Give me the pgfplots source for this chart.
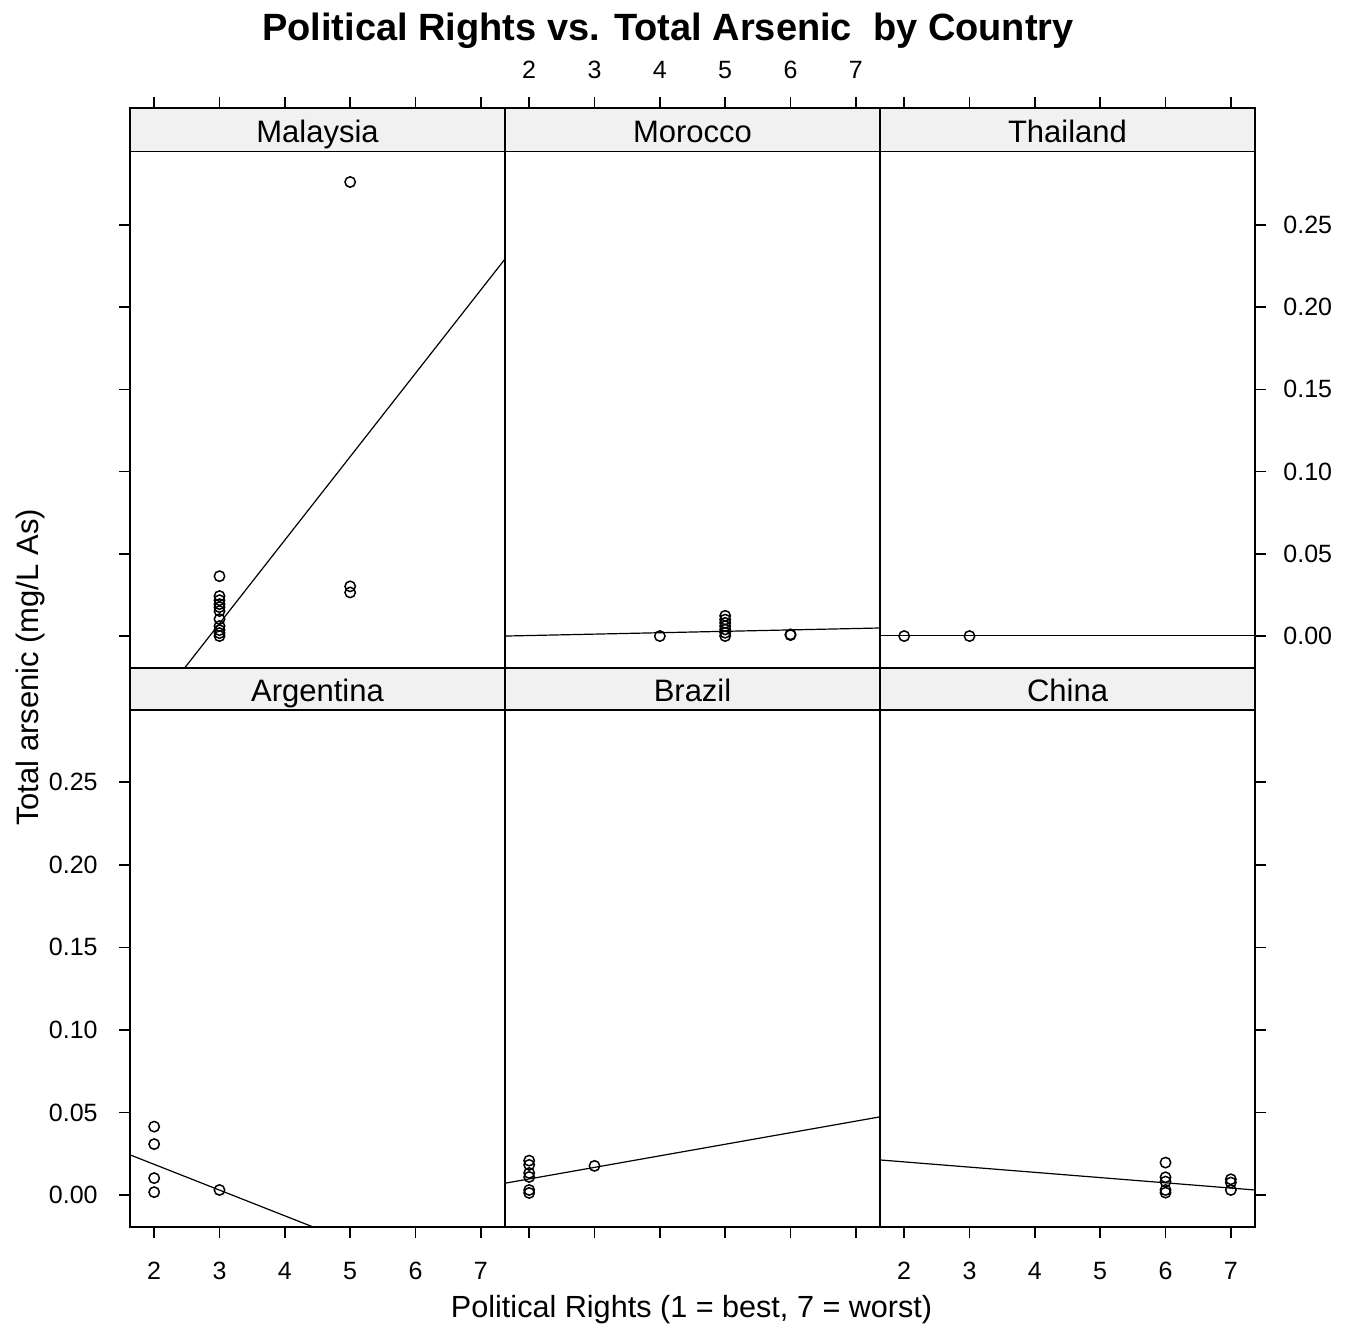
\documentclass[border=0pt]{standalone}
\usepackage{fontspec}
\setmainfont{Liberation Sans}
\usepackage{pgfplots}
\pgfplotsset{compat=1.18}
\definecolor{stripgray}{gray}{0.945}
\pgfplotsset{
  panel/.style={
    scale only axis, width=187.5pt,
    xmin=1.63, xmax=7.37,
    xtick={2,3,4,5,6,7},
    ytick={0,0.05,0.1,0.15,0.2,0.25},
    tick align=outside, major tick length=5.5pt,
    axis line style={line width=0.75pt},
    every tick/.style={black, line width=0.75pt},
    tick label style={font=\fontsize{12.5}{14}\selectfont, inner sep=0pt},
    /pgf/number format/assume math mode=true,
    yticklabel style={/pgf/number format/fixed, /pgf/number format/fixed zerofill, /pgf/number format/precision=2},
    clip mode=individual, axis on top,
    anchor=south west,
  },
  toprow/.style={height=280pt, ymin=-0.01942, ymax=0.3210},
  botrow/.style={height=279.5pt, ymin=-0.01942, ymax=0.3192},
  pts/.style={only marks, mark=o, mark size=2.6pt, mark options={line width=0.75pt, black}},
  fitl/.style={black, line width=0.6pt, no marks},
  botlab/.style={xticklabel style={anchor=center, yshift=-16.5pt}},
  toplab/.style={xticklabel style={anchor=center, yshift=13.5pt}},
  leftlab/.style={yticklabel style={anchor=east, xshift=-10.5pt}},
  rightlab/.style={yticklabel style={anchor=west, xshift=8.5pt}},
}
\newcommand{\strip}[2]{%
  \draw[fill=stripgray, line width=0.75pt] (rel axis cs:0,#2) rectangle (rel axis cs:1,1);
  \node[font=\fontsize{15.5}{18}\selectfont, anchor=center, inner sep=0pt, text height=1em, text depth=0.15em, yshift=-2pt] at (rel axis cs:0.5,{(1+#2)/2}) {#1};
}
\begin{document}
\begin{tikzpicture}
\path[use as bounding box] (0,0) rectangle (677.5pt,665pt);

% ---------- top row ----------
\begin{axis}[panel, toprow, at={(65pt,331pt)},
  xtick pos=right, xticklabels={,,,,,},
  ytick pos=left, yticklabels={,,,,,}]
\addplot[fitl] coordinates {(1.63,-0.0618) (7.37,0.2292)};
\addplot[pts] coordinates {(3,0.0364)(3,0.0243)(3,0.0218)(3,0.0194)(3,0.0176)(3,0.0152)(3,0.0103)(3,0.0061)(3,0.0036)(3,0.0018)(3,0.0)(5,0.276)(5,0.0302)(5,0.0265)};
\strip{Malaysia}{0.9221}
\end{axis}

\begin{axis}[panel, toprow, toplab, at={(252.5pt,331pt)},
  xtick pos=right, xticklabel pos=right,
  ytick=\empty]
\addplot[fitl] coordinates {(1.63,0.0) (7.37,0.0049)};
\addplot[pts] coordinates {(4,0.0)(5,0.0)(5,0.002)(5,0.004)(5,0.006)(5,0.008)(5,0.010)(5,0.0123)(6,0.0006)(6,0.001)};
\strip{Morocco}{0.9221}
\end{axis}

\begin{axis}[panel, toprow, rightlab, at={(440pt,331pt)},
  xtick pos=right, xticklabels={,,,,,},
  ytick pos=right, yticklabel pos=right]
\addplot[fitl] coordinates {(1.63,0.0002) (7.37,0.0002)};
\addplot[pts] coordinates {(2,0.0)(3,0.0)};
\strip{Thailand}{0.9221}
\end{axis}

% ---------- bottom row ----------
\begin{axis}[panel, botrow, botlab, leftlab, at={(65pt,51.5pt)},
  xtick pos=left, xticklabel pos=left,
  ytick pos=left, yticklabel pos=left]
\addplot[fitl] coordinates {(1.63,0.0243) (7.37,-0.0652)};
\addplot[pts] coordinates {(2,0.0414)(2,0.0308)(2,0.0102)(2,0.0017)(3,0.0030)};
\strip{Argentina}{0.9247}
\end{axis}

\begin{axis}[panel, botrow, at={(252.5pt,51.5pt)},
  xtick pos=left, xticklabels={,,,,,},
  ytick=\empty]
\addplot[fitl] coordinates {(1.63,0.0071) (7.37,0.0473)};
\addplot[pts] coordinates {(2,0.0208)(2,0.0182)(2,0.0133)(2,0.0109)(2,0.0030)(2,0.0012)(3,0.0176)};
\strip{Brazil}{0.9247}
\end{axis}

\begin{axis}[panel, botrow, botlab, at={(440pt,51.5pt)},
  xtick pos=left, xticklabel pos=left,
  ytick pos=right, yticklabels={,,,,,}]
\addplot[fitl] coordinates {(1.63,0.0212) (7.37,0.0030)};
\addplot[pts] coordinates {(6,0.0196)(6,0.0107)(6,0.0081)(6,0.0030)(6,0.0014)(7,0.0095)(7,0.0075)(7,0.0030)};
\strip{China}{0.9247}
\end{axis}

% ---------- titles ----------
\node[font=\bfseries\fontsize{19}{22}\selectfont] at (334pt,649.5pt) {Political Rights vs. Total Arsenic\ \ by Country};
\node[font=\fontsize{15.3}{18}\selectfont] at (345.8pt,10pt) {Political Rights (1 = best, 7 = worst)};
\node[font=\fontsize{15.5}{18}\selectfont, rotate=90] at (15pt,331.25pt) {Total arsenic (mg/L As)};
\end{tikzpicture}
\end{document}
